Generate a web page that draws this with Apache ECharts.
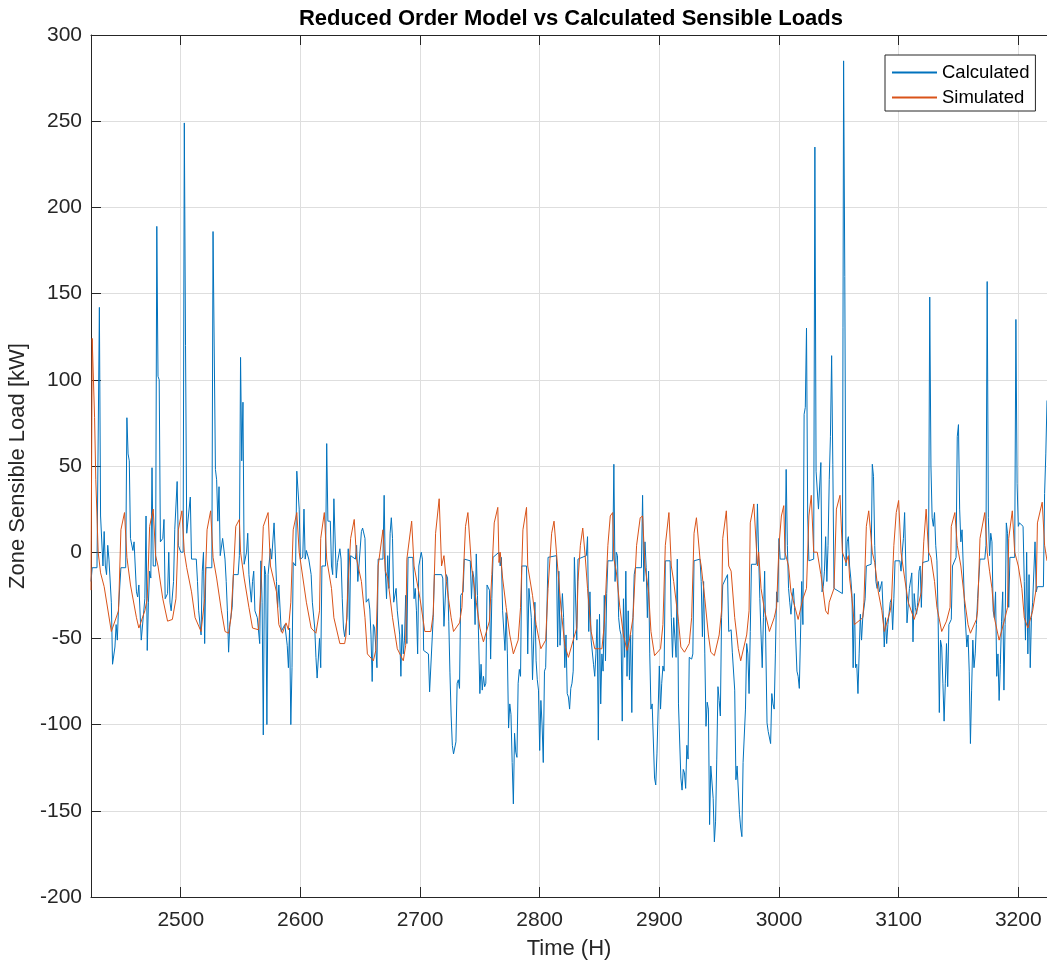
<!DOCTYPE html>
<html><head><meta charset="utf-8">
<script src="https://cdn.jsdelivr.net/npm/echarts@6/dist/echarts.min.js"></script>
<style>html,body{margin:0;padding:0;background:#fff}#c{width:1047px;height:961px}</style>
</head><body><div id="c"></div>
<script>
const titleText = 'Reduced Order Model vs Calculated Sensible Loads';
const xName = 'Time (H)';
const yName = 'Zone Sensible Load [kW]';
const seriesNames = ['Calculated', 'Simulated'];
const xTicks = [2500, 2600, 2700, 2800, 2900, 3000, 3100, 3200];
const xRange = [2425, 3224];
const yRange = [-200, 300];

// [hour, kW]
const calculated = [[2425,-17],[2426,-9],[2430,-9],[2431,-9],[2432,142],[2433,21],[2434,21],[2435,-8],[2436,12],[2437,-8],[2438,-13],[2439,4],[2440,-4],[2442,-29],[2443,-65],[2445,-55],[2446,-42],[2447,-51],[2448,-32],[2450,-9],[2454,-9],[2455,78],[2456,57],[2457,53],[2458,8],[2460,1],[2461,6],[2463,-23],[2464,-26],[2465,-19],[2467,-51],[2470,-27],[2471,21],[2472,-57],[2473,-29],[2474,-11],[2475,-15],[2476,49],[2477,-8],[2479,-8],[2480,189],[2481,102],[2482,100],[2483,6],[2485,8],[2486,19],[2487,-27],[2489,-24],[2490,0],[2491,-29],[2492,-34],[2494,-17],[2495,13],[2497,41],[2498,4],[2500,0],[2502,0],[2503,249],[2504,120],[2505,11],[2508,32],[2509,-4],[2513,-4],[2514,-17],[2515,-34],[2517,-48],[2518,-11],[2519,0],[2520,-53],[2521,-9],[2526,-9],[2527,186],[2529,48],[2530,42],[2531,18],[2532,38],[2533,-2],[2535,8],[2537,-4],[2538,-17],[2539,-34],[2540,-58],[2541,-42],[2543,-32],[2544,-13],[2548,-13],[2549,-2],[2550,113],[2551,53],[2552,87],[2553,-7],[2555,0],[2556,11],[2557,-13],[2559,-29],[2560,-17],[2561,-11],[2562,-34],[2564,-38],[2566,-53],[2567,-5],[2568,-29],[2569,-106],[2570,-8],[2571,-13],[2572,-100],[2573,-13],[2575,2],[2576,-4],[2578,17],[2579,0],[2580,-17],[2581,-32],[2582,-19],[2584,-46],[2587,-42],[2589,-54],[2590,-67],[2591,-44],[2592,-100],[2593,-67],[2594,-6],[2596,-8],[2597,47],[2599,25],[2600,-4],[2602,-3],[2603,25],[2604,-4],[2605,1],[2607,-4],[2609,-13],[2610,-29],[2612,-44],[2613,-61],[2614,-73],[2616,-50],[2617,-67],[2618,-8],[2621,-8],[2622,63],[2623,18],[2625,18],[2626,-8],[2627,-13],[2628,31],[2630,-15],[2631,-6],[2633,2],[2634,-4],[2635,-27],[2636,-44],[2637,-49],[2639,-38],[2640,2],[2641,-48],[2642,-2],[2646,-4],[2647,4],[2648,-17],[2649,-18],[2651,12],[2652,14],[2653,14],[2654,8],[2655,-29],[2657,-27],[2658,-33],[2659,-48],[2660,-75],[2661,-42],[2662,-44],[2663,-55],[2664,-67],[2665,-4],[2669,-4],[2670,33],[2671,-11],[2672,-27],[2673,-2],[2674,-21],[2675,11],[2676,20],[2677,8],[2678,-29],[2680,-21],[2681,-34],[2683,-48],[2684,-72],[2685,-42],[2686,-59],[2687,-51],[2688,-25],[2689,-53],[2690,-3],[2694,-3],[2695,-27],[2696,-21],[2697,-34],[2698,-59],[2699,-8],[2701,0],[2702,-4],[2703,-57],[2707,-59],[2708,-81],[2709,-82],[2711,-38],[2712,-13],[2718,-13],[2719,-15],[2720,-43],[2722,-13],[2723,-15],[2724,-40],[2725,-70],[2726,-95],[2727,-112],[2728,-117],[2729,-117],[2730,-110],[2731,-76],[2732,-74],[2733,-79],[2734,-25],[2736,-23],[2737,-4],[2742,-5],[2743,-27],[2744,-11],[2745,-15],[2746,-42],[2747,-1],[2748,-25],[2749,-51],[2750,-82],[2751,-65],[2752,-80],[2753,-72],[2754,-78],[2755,-76],[2756,-19],[2758,-22],[2759,-62],[2760,-27],[2761,-3],[2766,0],[2767,-8],[2768,-3],[2769,-34],[2771,-57],[2772,-35],[2773,-59],[2774,-102],[2775,-88],[2776,-94],[2777,-122],[2778,-146],[2779,-105],[2780,-116],[2781,-119],[2782,-76],[2783,-68],[2784,-72],[2785,-8],[2789,-8],[2790,-59],[2791,-21],[2793,-38],[2794,-74],[2796,-29],[2797,-63],[2798,-74],[2799,-80],[2800,-115],[2801,-86],[2802,-100],[2803,-122],[2804,-69],[2805,-67],[2807,-3],[2814,-2],[2815,-55],[2816,-11],[2817,-54],[2818,-38],[2819,-24],[2820,-38],[2821,-67],[2822,-48],[2823,-82],[2824,-84],[2825,-91],[2826,-79],[2827,-76],[2828,-69],[2829,-3],[2830,-4],[2831,-51],[2832,-4],[2839,-2],[2840,9],[2841,-46],[2842,-23],[2843,-51],[2845,-65],[2846,-72],[2847,-59],[2848,-39],[2849,-109],[2850,-36],[2851,-88],[2852,-59],[2853,-69],[2854,-25],[2855,-63],[2856,-24],[2857,-5],[2861,-5],[2862,51],[2863,-17],[2864,0],[2865,-2],[2866,-38],[2867,-45],[2868,-48],[2869,-98],[2870,-27],[2871,-61],[2872,-11],[2873,-72],[2874,-34],[2875,-74],[2876,-48],[2877,-93],[2878,-38],[2879,-13],[2880,-9],[2885,-9],[2886,33],[2887,-17],[2888,6],[2889,-9],[2890,-38],[2891,-11],[2892,-59],[2893,-91],[2894,-88],[2896,-131],[2897,-135],[2898,-117],[2899,-117],[2900,-66],[2901,-91],[2902,-76],[2903,-66],[2904,-69],[2905,-5],[2909,-5],[2910,-38],[2911,-61],[2912,-38],[2913,-38],[2914,-61],[2915,-4],[2916,-88],[2917,-89],[2918,-131],[2919,-138],[2920,-126],[2921,-128],[2922,-137],[2923,-112],[2924,-120],[2925,-61],[2927,-62],[2928,-59],[2929,-5],[2934,-4],[2935,-17],[2936,-49],[2937,-17],[2938,-59],[2939,-101],[2940,-87],[2941,-91],[2942,-158],[2943,-124],[2944,-123],[2945,-143],[2946,-168],[2947,-156],[2948,-120],[2949,-78],[2950,-86],[2951,-95],[2952,-38],[2953,-19],[2957,-13],[2958,-46],[2960,-45],[2961,-58],[2962,-57],[2963,-80],[2964,-132],[2965,-124],[2966,-124],[2967,-152],[2968,-160],[2969,-165],[2970,-122],[2972,-91],[2973,-53],[2974,-59],[2975,-82],[2976,-46],[2977,-7],[2981,-7],[2982,28],[2983,-2],[2984,-27],[2985,-48],[2986,-67],[2987,-38],[2988,-11],[2989,-55],[2990,-99],[2991,-104],[2993,-111],[2994,-82],[2995,-88],[2996,-91],[2997,-59],[2998,-23],[2999,-29],[3000,8],[3001,-4],[3005,-4],[3006,48],[3007,4],[3008,-21],[3009,-29],[3010,-36],[3011,-27],[3012,-21],[3013,-32],[3015,-69],[3016,-72],[3017,-79],[3018,-78],[3019,-17],[3020,-42],[3021,80],[3022,84],[3023,130],[3024,21],[3025,-5],[3029,-4],[3030,235],[3031,47],[3032,46],[3033,25],[3034,24],[3035,52],[3036,-23],[3037,-20],[3038,-11],[3039,9],[3040,-17],[3041,4],[3042,42],[3043,67],[3044,114],[3045,51],[3046,-21],[3053,-24],[3054,285],[3055,160],[3056,-8],[3057,6],[3058,9],[3059,-8],[3060,-15],[3061,-25],[3062,-67],[3063,-24],[3064,-67],[3065,-65],[3066,-82],[3067,-59],[3068,-36],[3069,-51],[3070,-38],[3072,-27],[3073,-8],[3077,-7],[3078,51],[3079,44],[3080,4],[3081,-17],[3082,-21],[3083,-17],[3084,-23],[3086,-17],[3087,-34],[3088,-55],[3089,-38],[3090,-53],[3091,-42],[3092,-43],[3093,-29],[3094,-27],[3095,-45],[3096,-27],[3097,-5],[3101,-5],[3102,-11],[3103,0],[3104,8],[3105,23],[3106,-8],[3107,-41],[3109,-21],[3111,-12],[3112,-52],[3113,-24],[3114,-32],[3115,-36],[3116,-29],[3117,-11],[3118,-8],[3119,-32],[3120,-6],[3125,-5],[3126,148],[3127,50],[3128,20],[3129,15],[3130,23],[3131,4],[3132,-5],[3133,-38],[3134,-93],[3135,-51],[3136,-55],[3137,-76],[3138,-98],[3139,-76],[3140,-53],[3141,-78],[3142,-42],[3144,-39],[3145,-8],[3148,-3],[3149,67],[3150,74],[3151,25],[3152,6],[3153,13],[3154,-8],[3155,-30],[3157,-55],[3158,-48],[3159,-69],[3160,-111],[3161,-80],[3162,-51],[3163,-67],[3164,-59],[3165,-42],[3166,-27],[3167,-27],[3168,-4],[3172,-4],[3173,4],[3174,157],[3175,20],[3176,-2],[3177,11],[3178,6],[3179,-34],[3180,-38],[3181,-23],[3182,-72],[3183,-59],[3184,-86],[3185,-65],[3186,-40],[3187,-23],[3188,-80],[3189,-42],[3190,17],[3191,11],[3192,-32],[3193,-3],[3197,-3],[3198,135],[3199,40],[3200,15],[3201,17],[3202,18],[3204,15],[3205,-17],[3206,-51],[3207,0],[3208,-59],[3209,-13],[3210,-67],[3211,-38],[3212,-29],[3214,6],[3215,-23],[3216,-20],[3221,-20],[3222,34],[3223,57],[3224,88]];

const simulated = [[2425,-22],[2426,124],[2428,78],[2429,42],[2431,0],[2433,-12],[2436,-20],[2442,-46],[2448,-34],[2450,13],[2453,23],[2455,-3],[2458,-19],[2463,-38],[2465,-44],[2470,-34],[2472,-27],[2474,15],[2477,25],[2479,-2],[2481,-8],[2485,-27],[2489,-40],[2493,-39],[2496,-27],[2498,13],[2501,24],[2503,0],[2505,-9],[2509,-23],[2512,-38],[2517,-46],[2520,-27],[2522,13],[2525,24],[2527,-3],[2530,-15],[2534,-34],[2537,-46],[2540,-47],[2542,-38],[2544,-13],[2546,15],[2549,19],[2550,0],[2553,-15],[2557,-32],[2560,-44],[2565,-45],[2567,-21],[2569,15],[2573,23],[2575,-8],[2580,-23],[2582,-42],[2585,-47],[2588,-41],[2590,-45],[2592,-29],[2594,13],[2597,23],[2599,0],[2605,-29],[2609,-44],[2613,-47],[2616,-34],[2617,8],[2620,23],[2622,-4],[2623,-3],[2626,-21],[2628,-38],[2633,-53],[2637,-53],[2638,-49],[2640,-17],[2642,8],[2645,19],[2647,-4],[2651,-17],[2654,-38],[2656,-59],[2661,-63],[2663,-57],[2665,-8],[2669,13],[2671,-11],[2673,-15],[2677,-38],[2681,-56],[2686,-63],[2688,-54],[2689,-4],[2693,18],[2695,-8],[2700,-27],[2704,-46],[2709,-46],[2711,-36],[2713,11],[2716,31],[2718,-8],[2720,-2],[2722,-17],[2724,-28],[2726,-38],[2728,-46],[2733,-41],[2735,-32],[2738,15],[2740,23],[2743,-8],[2747,-29],[2750,-44],[2753,-52],[2758,-40],[2760,-13],[2762,17],[2765,26],[2766,-6],[2767,0],[2769,-15],[2772,-32],[2775,-48],[2778,-59],[2782,-51],[2784,-32],[2786,13],[2789,26],[2790,-8],[2794,-25],[2797,-42],[2801,-56],[2805,-51],[2807,-21],[2810,11],[2812,18],[2814,0],[2818,-34],[2821,-54],[2824,-61],[2828,-51],[2831,-44],[2832,-17],[2834,4],[2836,14],[2838,-2],[2840,-21],[2843,-46],[2846,-56],[2852,-56],[2854,-42],[2857,4],[2859,21],[2861,23],[2862,-4],[2864,-11],[2867,-32],[2870,-48],[2873,-57],[2875,-51],[2878,-38],[2881,4],[2884,20],[2886,21],[2888,-8],[2891,-23],[2893,-46],[2896,-60],[2901,-56],[2903,-42],[2905,4],[2908,23],[2910,-8],[2912,-17],[2916,-40],[2918,-55],[2921,-58],[2925,-53],[2927,-38],[2929,11],[2931,20],[2932,20],[2934,-4],[2935,-8],[2938,-27],[2941,-48],[2943,-58],[2946,-60],[2950,-48],[2952,-34],[2953,8],[2956,24],[2958,-8],[2960,-11],[2963,-38],[2966,-56],[2968,-63],[2973,-48],[2975,-34],[2976,17],[2979,28],[2980,28],[2982,-8],[2983,0],[2985,-21],[2988,-34],[2992,-46],[2996,-38],[2998,-32],[3000,4],[3002,21],[3004,27],[3005,0],[3008,-8],[3010,-23],[3016,-39],[3020,-27],[3023,-21],[3025,21],[3027,33],[3028,33],[3029,0],[3032,0],[3035,-13],[3037,-23],[3039,-34],[3041,-36],[3042,-29],[3046,-21],[3048,25],[3051,33],[3052,33],[3053,0],[3056,-6],[3058,-2],[3059,-15],[3061,-27],[3063,-42],[3070,-38],[3071,-29],[3073,15],[3075,24],[3078,0],[3080,-6],[3083,-23],[3086,-34],[3088,-46],[3093,-34],[3094,-29],[3096,4],[3098,23],[3100,30],[3102,0],[3103,0],[3105,-15],[3108,-29],[3113,-39],[3116,-32],[3119,-23],[3121,6],[3123,25],[3125,0],[3127,-3],[3128,-4],[3130,-17],[3132,-32],[3136,-46],[3140,-40],[3143,-32],[3144,15],[3147,23],[3149,4],[3150,0],[3152,-8],[3155,-27],[3158,-42],[3160,-47],[3165,-39],[3166,-34],[3168,8],[3172,23],[3174,0],[3176,-11],[3178,-21],[3180,-38],[3184,-51],[3189,-38],[3191,-32],[3192,8],[3195,24],[3197,0],[3200,-8],[3203,-21],[3205,-38],[3208,-44],[3212,-34],[3215,-21],[3216,17],[3220,29],[3222,4],[3224,-5]];

const FONT = 'Liberation Sans';
const AXIS = '#262626';
const GRID = '#dedede';

const chart = echarts.init(document.getElementById('c'), null, {renderer: 'canvas'});
chart.setOption({
  animation: false,
  backgroundColor: '#ffffff',
  title: {
    text: titleText, left: 566, top: 3, textAlign: 'center',
    textStyle: {fontFamily: FONT, fontSize: 22, fontWeight: 'bold', color: '#000'}
  },
  legend: {
    data: seriesNames, orient: 'vertical', left: 885, top: 55,
    padding: [8, 6, 4, 6], itemGap: 6, itemWidth: 45, itemHeight: 21,
    backgroundColor: '#fff', borderColor: AXIS, borderWidth: 1,
    itemStyle: {color: 'rgba(0,0,0,0)', borderColor: 'rgba(0,0,0,0)', borderWidth: 0, opacity: 0},
    textStyle: {fontFamily: FONT, fontSize: 18.5, color: '#000'}
  },
  grid: {left: 91, right: 0, top: 35, bottom: 64, containLabel: false, outerBoundsMode: 'none'},
  xAxis: [{
    type: 'value', min: xRange[0], max: xRange[1],
    name: xName, nameLocation: 'middle', nameGap: 41,
    nameTextStyle: {fontFamily: FONT, fontSize: 22, color: AXIS},
    axisLine: {show: true, onZero: false, lineStyle: {color: AXIS, width: 1}},
    axisTick: {show: true, inside: true, length: 10, customValues: xTicks, lineStyle: {color: AXIS}},
    axisLabel: {customValues: xTicks, formatter: v => String(v), fontFamily: FONT, fontSize: 21, color: AXIS, margin: 13},
    splitLine: {show: true, lineStyle: {color: GRID, width: 1}}
  }, {
    type: 'value', min: xRange[0], max: xRange[1], position: 'top',
    axisLine: {show: true, onZero: false, lineStyle: {color: AXIS, width: 1}},
    axisTick: {show: true, inside: true, length: 10, customValues: xTicks, lineStyle: {color: AXIS}},
    axisLabel: {show: false}, splitLine: {show: false}
  }],
  yAxis: [{
    type: 'value', min: yRange[0], max: yRange[1], interval: 50,
    name: yName, nameLocation: 'middle', nameGap: 50,
    nameTextStyle: {fontFamily: FONT, fontSize: 22, color: AXIS},
    axisLine: {show: true, onZero: false, lineStyle: {color: AXIS, width: 1}},
    axisTick: {show: true, inside: true, length: 10, lineStyle: {color: AXIS}},
    axisLabel: {fontFamily: FONT, fontSize: 21, color: AXIS, margin: 9},
    splitLine: {show: true, lineStyle: {color: GRID, width: 1}}
  }],
  series: [{
    name: seriesNames[0], type: 'line', data: calculated, symbol: 'none',
    xAxisIndex: 0, yAxisIndex: 0,
    lineStyle: {color: '#0072BD', width: 1}, itemStyle: {color: '#0072BD'}, z: 2
  }, {
    name: seriesNames[1], type: 'line', data: simulated, symbol: 'none',
    xAxisIndex: 0, yAxisIndex: 0,
    lineStyle: {color: '#D95319', width: 1}, itemStyle: {color: '#D95319'}, z: 3
  }]
});
</script>
</body></html>
